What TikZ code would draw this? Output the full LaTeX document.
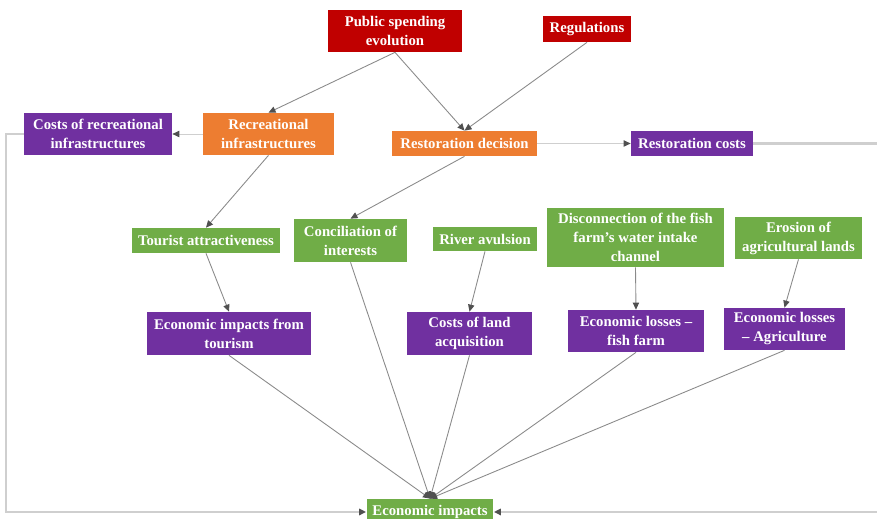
\documentclass[tikz,border=0pt]{standalone}
\usepackage{fontspec}
\setmainfont{Liberation Serif}
\usetikzlibrary{arrows.meta}

\definecolor{boxred}{HTML}{C00000}
\definecolor{boxorange}{HTML}{ED7D31}
\definecolor{boxpurple}{HTML}{7030A0}
\definecolor{boxgreen}{HTML}{70AD47}
\definecolor{linkgray}{HTML}{8A8A8A}
\definecolor{loopgray}{HTML}{CFCFCF}
\definecolor{tipgray}{HTML}{505050}

\tikzset{
  box/.style={inner sep=0pt, align=center, text=white,
    font=\fontsize{8.4}{10.8}\selectfont\bfseries},
  redbox/.style={box, fill=boxred},
  orangebox/.style={box, fill=boxorange},
  purplebox/.style={box, fill=boxpurple},
  greenbox/.style={box, fill=boxgreen},
  link/.style={draw=linkgray, line width=0.5pt,
    -{Triangle[length=4pt,width=3.6pt,color=tipgray]}},
  loopline/.style={draw=loopgray, line width=1.3pt,
    -{Triangle[length=4pt,width=3.6pt,color=tipgray]}},
}

\begin{document}
\begin{tikzpicture}[x=0.02cm, y=-0.02cm]
  \useasboundingbox (0,0) rectangle (877,519);

  \node[redbox, minimum width=2.68cm, minimum height=0.84cm] (pspend) at (395,31) {Public spending\\evolution};
  \node[redbox, minimum width=1.76cm, minimum height=0.52cm] (reg) at (587,29) {Regulations};

  \node[purplebox, minimum width=2.96cm, minimum height=0.84cm] (costrec) at (98,134) {Costs of recreational\\infrastructures};
  \node[orangebox, minimum width=2.62cm, minimum height=0.84cm] (recinf) at (268.5,134) {Recreational\\infrastructures};
  \node[orangebox, minimum width=2.9cm, minimum height=0.5cm] (restdec) at (464.5,143.5) {Restoration decision};
  \node[purplebox, minimum width=2.44cm, minimum height=0.5cm] (restcost) at (692,143.5) {Restoration costs};

  \node[greenbox, minimum width=2.96cm, minimum height=0.5cm] (tourist) at (206,240.5) {Tourist attractiveness};
  \node[greenbox, minimum width=2.26cm, minimum height=0.86cm] (concil) at (350.5,240.5) {Conciliation of\\interests};
  \node[greenbox, minimum width=2.08cm, minimum height=0.48cm] (river) at (485,239) {River avulsion};
  \node[greenbox, minimum width=3.54cm, minimum height=1.18cm] (discon) at (635.5,237.5) {Disconnection of the fish\\farm’s water intake\\channel};
  \node[greenbox, minimum width=2.54cm, minimum height=0.84cm] (erosion) at (798.5,238) {Erosion of\\agricultural lands};

  \node[purplebox, minimum width=3.28cm, minimum height=0.86cm] (ectour) at (229,333.5) {Economic impacts from\\tourism};
  \node[purplebox, minimum width=2.5cm, minimum height=0.86cm] (land) at (469.5,333.5) {Costs of land\\acquisition};
  \node[purplebox, minimum width=2.72cm, minimum height=0.84cm] (fish) at (636,331) {Economic losses –\\fish farm};
  \node[purplebox, minimum width=2.42cm, minimum height=0.84cm] (agri) at (784.5,329) {Economic losses\\– Agriculture};

  \node[greenbox, minimum width=2.54cm, minimum height=0.52cm] (ecimp) at (430,512) {Economic impacts};

  % links
  \draw[link] (pspend.south) -- (recinf.north);
  \draw[link] (pspend.south) -- (restdec.north);
  \draw[link] (reg.south) -- (restdec.north);
  \draw[link, draw=loopgray] (recinf.west) -- (costrec.east);
  \draw[link, draw=loopgray] (restdec.east) -- (restcost.west);
  \draw[link] (recinf.south) -- (tourist.north);
  \draw[link] (restdec.south) -- (concil.north);
  \draw[link] (tourist.south) -- (ectour.north);
  \draw[link] (river.south) -- (land.north);
  \draw[link] (discon.south) -- (fish.north);
  \draw[link] (erosion.south) -- (agri.north);

  \foreach \src in {ectour,concil,land,fish,agri}
    \draw[link] (\src.south) -- (ecimp.north);

  % feedback
  \coordinate (lt) at (6,134);
  \coordinate (lb) at (6,512);
  \coordinate (rt) at (880,143.5);
  \coordinate (rb) at (880,512);
  \draw[loopline] (costrec.west) -- (lt) -- (lb) -- (ecimp.west);
  \draw[loopline] (restcost.east) -- (rt) -- (rb) -- (ecimp.east);
\end{tikzpicture}
\end{document}
